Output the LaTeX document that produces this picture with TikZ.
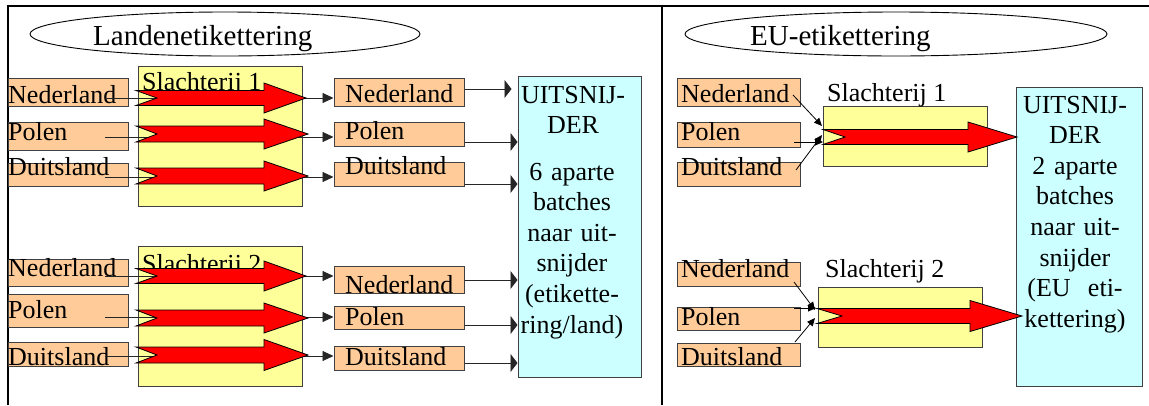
\documentclass[tikz,border=0pt]{standalone}
\usepackage{fontspec}
\setmainfont{Liberation Serif}
\usetikzlibrary{arrows.meta,shapes.geometric}
\definecolor{peach}{HTML}{FFCC99}
\definecolor{lemon}{HTML}{FFFF99}
\definecolor{sky}{HTML}{CCFFFF}
\definecolor{edgegrey}{HTML}{404040}
\tikzset{
  box/.style={draw=edgegrey, line width=1pt, inner sep=0pt},
  obox/.style={box, fill=peach},
  ybox/.style={box, fill=lemon},
  cbox/.style={box, fill=sky},
  lbl/.style={inner sep=0pt, anchor=base west, font=\fontsize{26}{30.6}\selectfont},
  ttl/.style={inner sep=0pt, anchor=base west, font=\fontsize{29}{34}\selectfont},
  blk/.style={inner sep=0pt, anchor=base, text width=126pt, align=center, font=\fontsize{26}{30.6}\selectfont},
  conn/.style={draw=black!85, line width=0.9pt, -{Triangle[length=11pt,width=10pt]}},
  tallconn/.style={draw=black!85, line width=0.9pt, -{Triangle[length=7pt,width=18pt]}},
  slant/.style={draw=black, line width=0.8pt, -{Triangle[length=8pt,width=7pt]}},
  fat/.style={fill=red, draw=black, line width=0.8pt, line join=miter},
  frameline/.style={line width=2.4pt},
  oval/.style={draw, ellipse, line width=0.9pt, inner sep=0pt},
}
\newcommand\bx[6]{\node[#1, minimum width={(#5-#3)*1pt}, minimum height={(#6-#4)*1pt}] (#2) at ({(#3+#5)/2},{(#4+#6)/2}) {};}
\newcommand\fatarr[7]{\draw[fat] ({#1},{#5-#6}) -- ({#3},{#5-#6}) -- ({#3},{#5-#7}) -- ({#4},{#5}) -- ({#3},{#5+#7}) -- ({#3},{#5+#6}) -- ({#1},{#5+#6}) -- ({#2},{#5}) -- cycle;}
\begin{document}
\begin{tikzpicture}[x=1pt,y=-1pt]
\useasboundingbox (0,0) rectangle (1149,405);
% frame
\coordinate (fTL) at (8,6);
\coordinate (fTR) at (1149,6);
\coordinate (fBL) at (8,405);
\coordinate (fDT) at (662,6);
\coordinate (fDB) at (662,405);
\draw[frameline] (fBL) -- (fTL) -- (fTR);
\draw[frameline] (fDT) -- (fDB);
% titles
\node[oval, minimum width=390pt, minimum height=44pt] (eL) at (225,34) {};
\node[ttl] (tL) at (93,45) {Landenetikettering};
\node[oval, minimum width=422pt, minimum height=44pt] (eR) at (896,34) {};
\node[ttl] (tR) at (750,45) {EU-etikettering};

% ===== left panel =====
\bx{ybox}{sA}{138}{66}{302}{206}
\bx{ybox}{sB}{138}{246}{302}{386}
\node[lbl] (sAl) at (142,90.5) {Slachterij 1};
\node[lbl] (sBl) at (142,272) {Slachterij 2};

\bx{obox}{lA1}{8}{78}{128}{106}
\bx{obox}{lA2}{8}{122}{128}{150}
\bx{obox}{lA3}{8}{163}{128}{186}
\bx{obox}{lB1}{8}{259}{128}{286}
\bx{obox}{lB2}{8}{294}{128}{327}
\bx{obox}{lB3}{8}{342}{128}{366}
\node[lbl] (lA1t) at (8,103) {Nederland};
\node[lbl] (lA2t) at (8,140) {Polen};
\node[lbl] (lA3t) at (8,175) {Duitsland};
\node[lbl] (lB1t) at (8,276) {Nederland};
\node[lbl] (lB2t) at (8,318) {Polen};
\node[lbl] (lB3t) at (8,365) {Duitsland};

\bx{obox}{mA1}{334}{78}{464}{106}
\bx{obox}{mA2}{334}{122}{464}{146}
\bx{obox}{mA3}{334}{162}{464}{186}
\bx{obox}{mB1}{334}{266}{464}{293}
\bx{obox}{mB2}{334}{306}{464}{329}
\bx{obox}{mB3}{334}{346}{464}{370}
\node[lbl] (mA1t) at (345,102) {Nederland};
\node[lbl] (mA2t) at (345,139) {Polen};
\node[lbl] (mA3t) at (345,174) {Duitsland};
\node[lbl] (mB1t) at (345,293) {Nederland};
\node[lbl] (mB2t) at (345,325) {Polen};
\node[lbl] (mB3t) at (345,365) {Duitsland};

\bx{cbox}{uL}{518}{76}{641}{377}
\node[blk] (uLa) at (573,103) {UITSNIJ-\\DER};
\node[blk] (uLb) at (572,180) {6 aparte\\batches\\naar uit-\\snijder\\(etikette-\\ring/land)};

% connectors left -> middle
\coordinate (cA1) at (105,98);
\coordinate (cA2) at (105,137);
\coordinate (cA3) at (105,177);
\coordinate (cB1) at (105,276);
\coordinate (cB2) at (105,317);
\coordinate (cB3) at (105,356);
\draw[conn] (cA1) -- (cA1 -| mA1.west);
\draw[conn] (cA2) -- (cA2 -| mA2.west);
\draw[conn] (cA3) -- (cA3 -| mA3.west);
\draw[conn] (cB1) -- (cB1 -| mB1.west);
\draw[conn] (cB2) -- (cB2 -| mB2.west);
\draw[conn] (cB3) -- (cB3 -| mB3.west);

% red arrows left
\fatarr{136}{157}{264}{306}{98}{7.5}{15}
\fatarr{136}{157}{264}{308}{134}{8}{15}
\fatarr{136}{157}{264}{308}{176}{8}{15}
\fatarr{136}{157}{264}{306}{276}{7.5}{15}
\fatarr{136}{157}{264}{308}{318}{8}{15}
\fatarr{136}{157}{264}{308}{355}{8}{15.5}

% middle -> uitsnijder
\draw[tallconn, shorten >=6pt] ([yshift=3pt]mA1.east) -- ([yshift=3pt]mA1.east -| uL.west);
\draw[tallconn] ([yshift=-8pt]mA2.east) -- ([yshift=-8pt]mA2.east -| uL.west);
\draw[tallconn] ([yshift=-10pt]mA3.east) -- ([yshift=-10pt]mA3.east -| uL.west);
\draw[tallconn] ([yshift=-0.5pt]mB1.east) -- ([yshift=-0.5pt]mB1.east -| uL.west);
\draw[tallconn] ([yshift=-7.5pt]mB2.east) -- ([yshift=-7.5pt]mB2.east -| uL.west);
\draw[tallconn] ([yshift=-5pt]mB3.east) -- ([yshift=-5pt]mB3.east -| uL.west);

% ===== right panel =====
\bx{obox}{rA1}{677}{78}{800}{106}
\bx{obox}{rA2}{677}{122}{800}{147}
\bx{obox}{rA3}{677}{162}{800}{186}
\bx{obox}{rB1}{677}{262}{800}{286}
\bx{obox}{rB2}{677}{307}{800}{330}
\bx{obox}{rB3}{677}{343}{800}{366}
\node[lbl] (rA1t) at (681,102) {Nederland};
\node[lbl] (rA2t) at (681,140) {Polen};
\node[lbl] (rA3t) at (681,175) {Duitsland};
\node[lbl] (rB1t) at (681,277) {Nederland};
\node[lbl] (rB2t) at (681,325) {Polen};
\node[lbl] (rB3t) at (681,365) {Duitsland};

\bx{ybox}{rsA}{823}{106}{987}{166}
\bx{ybox}{rsB}{818}{287}{982}{347}
\node[lbl] (rsAl) at (827,101) {Slachterij 1};
\node[lbl] (rsBl) at (825,277) {Slachterij 2};

\bx{cbox}{uR}{1016}{87}{1142}{386}
\node[blk] (uRa) at (1075,113) {UITSNIJ-\\DER\\2 aparte\\batches\\naar uit-\\snijder\\(EU~~eti-\\kettering)};

% connectors right
\coordinate (dA1) at (793,95);
\coordinate (dA2) at (794,142);
\coordinate (dA3) at (796,170);
\coordinate (eA1) at (822,126);
\coordinate (eA2) at (823,142);
\coordinate (eA3) at (822,135);
\draw[slant] (dA1) -- (eA1);
\draw[slant] (dA2) -- (eA2);
\draw[slant] (dA3) -- (eA3);
\coordinate (dB1) at (794,282);
\coordinate (dB2) at (794,308);
\coordinate (dB3) at (795,342);
\coordinate (eB1) at (815,310);
\coordinate (eB2) at (816,308);
\coordinate (eB3) at (815,318);
\draw[slant] (dB1) -- (eB1);
\draw[slant] (dB2) -- (eB2);
\draw[slant] (dB3) -- (eB3);

% red arrows right
\fatarr{823}{845}{968}{1017}{137}{7.5}{15}
\fatarr{817}{842}{970}{1022}{316}{7.5}{15.5}
\end{tikzpicture}
\end{document}
